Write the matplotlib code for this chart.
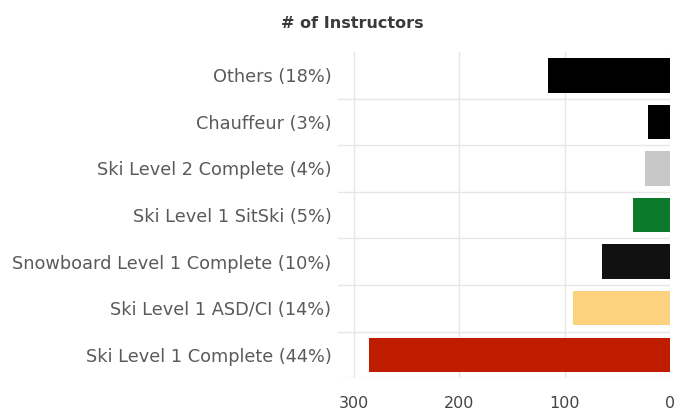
import numpy as np
import matplotlib
matplotlib.use('Agg')
import matplotlib.pyplot as plt

CATEGORIES = ['Others (18%)', 'Chauffeur (3%)', 'Ski Level 2 Complete (4%)',
              'Ski Level 1 SitSki (5%)', 'Snowboard Level 1 Complete (10%)',
              'Ski Level 1 ASD/CI (14%)', 'Ski Level 1 Complete (44%)']
COUNTS = [116, 21, 24, 35, 65, 92, 286]
COLORS = ['#000000', '#000000', '#c8c8c8', '#0b7a2b', '#111111',
          '#fdd27e', '#c01c00']
X_TICKS = [300, 200, 100, 0]

fig = plt.figure(figsize=(6.74, 4.16), dpi=100)
ax = fig.add_axes([0.502, 0.091, 0.492, 0.784])

y = np.arange(len(CATEGORIES))
ax.barh(y, COUNTS, height=0.74, color=COLORS, zorder=3)

ax.set_xlim(315, 0)
ax.set_ylim(len(CATEGORIES) - 0.5, -0.5)
ax.set_xticks(X_TICKS)
ax.set_xticklabels([str(t) for t in X_TICKS])
ax.set_yticks(y)
ax.set_yticklabels(CATEGORIES)

# row separators between categories
ax.set_yticks(np.arange(len(CATEGORIES)) + 0.5, minor=True)
ax.grid(axis='y', which='minor', color='#e6e6e6', linewidth=1, zorder=0)
ax.grid(axis='x', which='major', color='#e6e6e6', linewidth=1, zorder=0)

ax.tick_params(axis='both', which='both', length=0)
ax.tick_params(axis='y', labelsize=12.8, labelcolor='#5a5a5a', pad=5)
ax.tick_params(axis='x', labelsize=11.5, labelcolor='#444444', pad=13)
for s in ax.spines.values():
    s.set_visible(False)

fig.text(0.522, 0.943, '# of Instructors', ha='center', va='center',
         fontsize=11.5, fontweight='bold', color='#3a3a3a')

fig.savefig('out.png', dpi=100)
